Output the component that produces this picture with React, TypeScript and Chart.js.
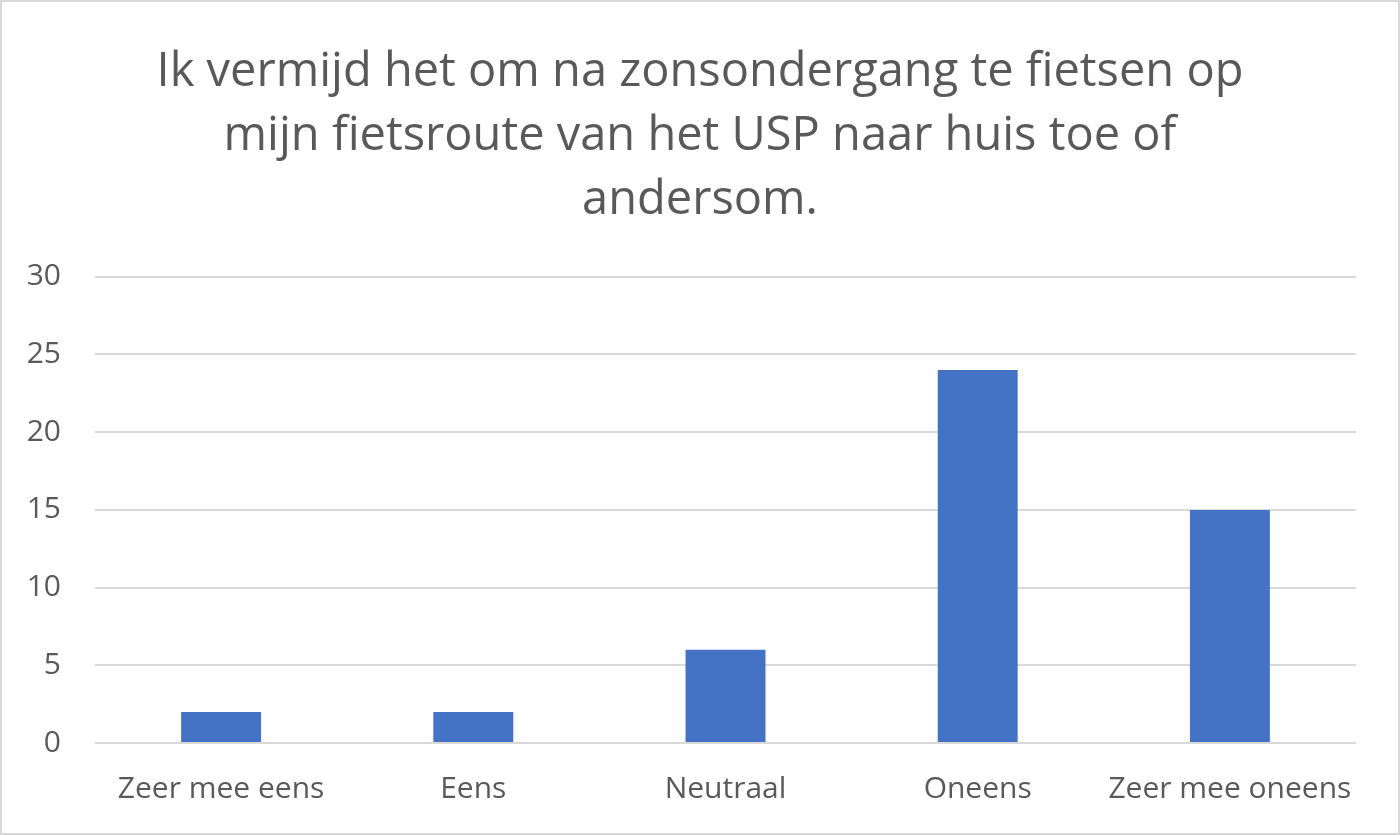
import React, { useEffect, useRef } from "react";
import { Chart, registerables } from "chart.js";

Chart.register(...registerables);

const titleLines = [
  "Ik vermijd het om na zonsondergang te fietsen op",
  "mijn fietsroute van het USP naar huis toe of",
  "andersom.",
];
const categories = ["Zeer mee eens", "Eens", "Neutraal", "Oneens", "Zeer mee oneens"];
const values = [2, 2, 6, 24, 15];
const yMax = 30;
const yStep = 5;

const TEXT = "#595959";
const GRID = "#d9d9d9";
const BAR = "#4472c4";
const FONT = "'Open Sans', 'Noto Sans', sans-serif";

const bgPlugin = {
  id: "bgBorder",
  beforeDraw(chart: any) {
    const { ctx, width, height } = chart;
    ctx.save();
    ctx.fillStyle = "#ffffff";
    ctx.fillRect(0, 0, width, height);
    ctx.strokeStyle = GRID;
    ctx.lineWidth = 2;
    ctx.strokeRect(1, 1, width - 2, height - 2);
    ctx.restore();
  },
};

export default function App() {
  const ref = useRef<HTMLCanvasElement | null>(null);
  useEffect(() => {
    if (!ref.current) return;
    const chart = new Chart(ref.current, {
      type: "bar",
      data: {
        labels: categories,
        datasets: [
          {
            data: values,
            backgroundColor: BAR,
            barPercentage: 0.317,
            categoryPercentage: 1,
          },
        ],
      },
      plugins: [bgPlugin],
      options: {
        animation: false,
        responsive: false,
        devicePixelRatio: 1,
        layout: { padding: { left: 0, right: 0, top: 0, bottom: 0 } },
        plugins: {
          legend: { display: false },
          tooltip: { enabled: false },
          title: {
            display: true,
            text: titleLines,
            color: TEXT,
            font: { family: FONT, size: 47, weight: "normal", lineHeight: 1.36 },
            padding: { top: 41, bottom: 44 },
          },
        },
        scales: {
          x: {
            grid: { display: false, drawTicks: false },
            border: { display: false },
            ticks: {
              color: TEXT,
              font: { family: FONT, size: 30, lineHeight: 1.2 },
              padding: 28,
              maxRotation: 0,
            },
          },
          y: {
            min: 0,
            max: yMax,
            afterFit(scale: any) {
              scale.width = 95;
            },
            grid: { color: GRID, lineWidth: 2, drawTicks: false },
            border: { display: false },
            ticks: {
              stepSize: yStep,
              color: TEXT,
              font: { family: FONT, size: 30 },
              padding: 34,
            },
          },
          yRightSpacer: {
            type: "linear",
            position: "right",
            display: true,
            afterFit(scale: any) {
              scale.width = 44;
            },
            grid: { display: false, drawTicks: false },
            border: { display: false },
            ticks: { display: false },
          },
        },
      },
    });
    return () => chart.destroy();
  }, []);
  return (
    <div style={{ position: "absolute", left: 0, top: 0, width: 1400, height: 835 }}>
      <canvas ref={ref} width={1400} height={835} style={{ display: "block" }} />
    </div>
  );
}
